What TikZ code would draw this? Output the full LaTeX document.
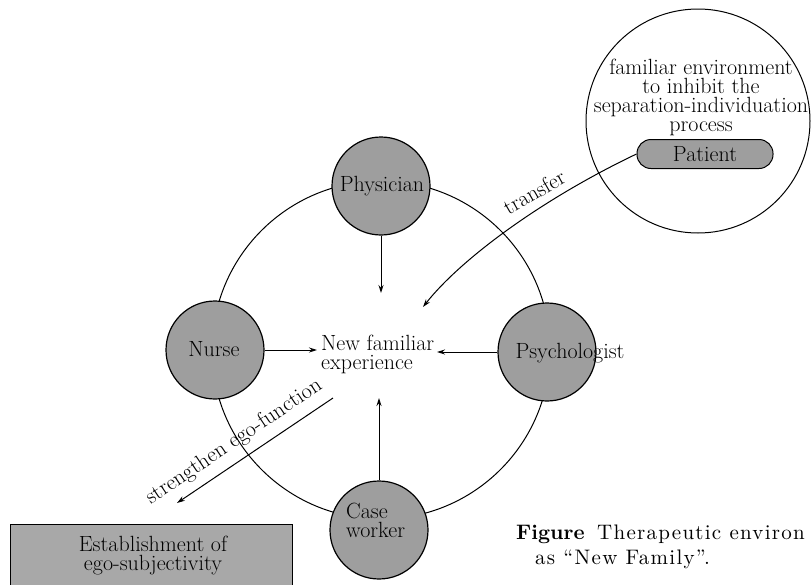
\documentclass[tikz,border=0pt]{standalone}
\usepackage{fontspec}
\usetikzlibrary{arrows.meta}
\newfontfamily\capfam{lmroman10-regular.otf}[LetterSpace=6]
\newfontfamily\capbold{lmroman10-bold.otf}
\newcommand\lblfont{\fontsize{22}{19}\selectfont}
\newcommand\capfont{\capfam\fontsize{21}{25}\selectfont}
\newcommand\capboldfont{\capbold\fontsize{21}{25}\selectfont}
\tikzset{
  person/.style={circle, draw, line width=1.2pt, fill=black!38, minimum size=98pt, inner sep=0pt},
  txt/.style={inner sep=0pt, font=\lblfont},
  ring/.style={line width=1pt},
  arr/.style={line width=1pt, -{Stealth[length=8pt,width=5pt]}},
}
\begin{document}
\begin{tikzpicture}[x=1pt,y=-1pt]
\useasboundingbox (0,0) rectangle (811,584);
\clip (0,0) rectangle (811,584);
% main ring
\draw[ring] (381,350) circle [radius=169];
% persons
\node[person] (phys) at (381,186) {};
\node[person] (nurse) at (215,350) {};
\node[person] (psych) at (547,352) {};
\node[person] (case) at (379,530) {};
\node[txt] (physT) at (382,186) {Physician};
\node[txt] (nurseT) at (214,349) {Nurse};
\node[txt] (psychT) at (570,353) {Psychologist};
\node[txt, align=left, anchor=west] (caseT) at (346,520) {Case\\worker};
% center text
\node[txt, align=left, anchor=west] (center) at (321,354) {New familiar\\experience};
% arrows to center
\coordinate (pin) at (381,293);
\coordinate (nin) at (317,350);
\coordinate (sin) at (437,352);
\coordinate (cin) at (379,398);
\draw[arr] (phys.south) -- (pin);
\draw[arr] (nurse.east) -- (nin);
\draw[arr] (psych.west) -- (sin);
\draw[arr] (case.north) -- (cin);
% patient environment
\node[circle, draw, line width=1pt, minimum size=224pt, inner sep=0pt] (env) at (698,121) {};
\node[txt, align=center] (envT) at (701,97) {familiar environment\\to inhibit the\\separation-individuation\\process};
\node[draw, line width=1pt, fill=black!38, rounded corners=14pt, minimum width=136pt, minimum height=29pt, inner sep=0pt, font=\lblfont] (pat) at (705,154) {Patient};
\coordinate (tin) at (423,307);
\draw[arr] (pat.west) .. controls (540,200) and (460,260) .. (tin);
\node[txt, rotate=30] (transfer) at (534,192) {transfer};
% strengthen
\coordinate (sfrom) at (333,398);
\coordinate (sto) at (177,503);
\draw[arr] (sfrom) -- (sto);
\node[txt, rotate=34] (strength) at (234,442) {strengthen ego-function};
% establishment box
\node[draw, line width=1pt, fill=black!34, minimum width=282pt, minimum height=80pt, inner sep=0pt, anchor=north west] (estab) at (10,524) {};
\node[txt, align=center] (estabT) at (153,556) {Establishment of\\ego-subjectivity};
% caption
\node[inner sep=0pt, anchor=base west, font=\capboldfont] (capA) at (516,539) {Figure};
\node[inner sep=0pt, anchor=base west, font=\capfont] (capB) at (597,539) {Therapeutic environ};
\node[inner sep=0pt, anchor=base west, font=\capfont] (capC) at (535,564) {as “New Family”.};
\end{tikzpicture}
\end{document}
